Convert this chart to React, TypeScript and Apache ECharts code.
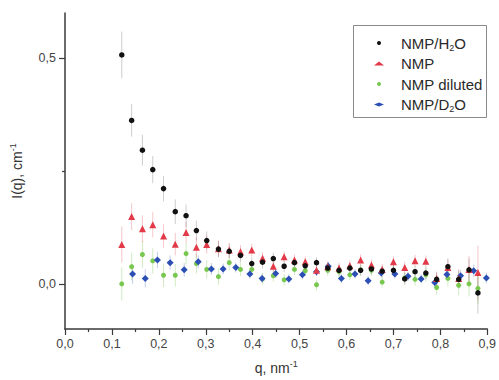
import React, { useEffect, useRef } from "react";
import * as echarts from "echarts";

// q values (nm^-1)
const qMain = [0.121,0.142,0.165,0.187,0.210,0.235,0.258,0.280,0.302,0.327,0.350,0.374,0.398,0.421,0.444,0.467,0.489,0.512,0.536,0.560,0.584,0.607,0.630,0.653,0.676,0.700,0.724,0.746,0.769,0.792,0.816,0.839,0.861,0.880];
const qD2O = [0.144,0.171,0.197,0.224,0.254,0.284,0.312,0.337,0.364,0.394,0.420,0.449,0.477,0.506,0.536,0.561,0.589,0.618,0.646,0.674,0.703,0.731,0.759,0.788,0.814,0.843,0.871,0.898];

// NMP/H2O
const h2oI = [0.507,0.362,0.296,0.253,0.211,0.160,0.151,0.118,0.096,0.077,0.072,0.063,0.045,0.048,0.056,0.039,0.047,0.040,0.047,0.035,0.030,0.035,0.030,0.033,0.028,0.030,0.011,0.027,0.024,0.010,0.038,0.010,0.031,-0.020];
const h2oErr = [0.052,0.036,0.034,0.030,0.028,0.027,0.025,0.022,0.020,0.018,0.016,0.015,0.014,0.014,0.013,0.013,0.012,0.012,0.012,0.012,0.012,0.012,0.012,0.012,0.012,0.013,0.013,0.013,0.014,0.015,0.018,0.020,0.025,0.046];

// NMP
const nmpI = [0.087,0.149,0.122,0.131,0.106,0.088,0.114,0.081,0.087,0.078,0.075,0.071,0.075,0.057,0.039,0.060,0.053,0.049,0.030,0.038,0.035,0.040,0.053,0.042,0.032,0.049,0.036,0.051,0.050,0.012,0.036,0.012,0.032,0.025];
const nmpErr = [0.040,0.030,0.030,0.028,0.026,0.025,0.024,0.022,0.020,0.018,0.016,0.015,0.014,0.013,0.013,0.012,0.012,0.012,0.012,0.012,0.012,0.012,0.012,0.012,0.012,0.012,0.013,0.013,0.013,0.015,0.018,0.020,0.030,0.060];

// NMP diluted
const dilI = [0.000,0.038,0.065,0.051,0.019,0.019,0.067,0.045,0.032,0.016,0.047,0.032,0.032,0.011,0.018,0.009,0.032,0.029,-0.002,0.030,0.027,0.020,0.031,0.030,0.004,0.030,0.013,0.010,0.020,-0.008,0.012,-0.003,0.000,-0.010];
const dilErr = [0.037,0.030,0.030,0.028,0.026,0.025,0.024,0.022,0.020,0.018,0.016,0.015,0.014,0.013,0.013,0.013,0.012,0.012,0.012,0.012,0.012,0.012,0.012,0.012,0.012,0.013,0.013,0.014,0.015,0.016,0.018,0.022,0.028,0.035];

// NMP/D2O
const d2oI = [0.022,0.012,0.053,0.047,0.031,0.049,0.033,0.033,0.036,0.022,0.012,0.023,0.011,0.020,0.027,0.039,0.012,0.022,0.007,0.024,0.022,0.017,0.011,0.003,0.021,0.018,0.029,0.013];
const d2oErr = [0.022,0.020,0.018,0.016,0.015,0.014,0.013,0.012,0.011,0.010,0.010,0.010,0.010,0.010,0.010,0.010,0.010,0.010,0.010,0.010,0.010,0.010,0.010,0.011,0.012,0.013,0.014,0.012];

const seriesNames = ["NMP/H2O", "NMP", "NMP diluted", "NMP/D2O"];
const legendLabels: Record<string, string> = {
  "NMP/H2O": "NMP/H{sub|2}O",
  "NMP": "NMP",
  "NMP diluted": "NMP diluted",
  "NMP/D2O": "NMP/D{sub|2}O",
};

const FONT = "'Liberation Sans', Arial, sans-serif";

function pts(q: number[], v: number[]) {
  return q.map((x, i) => [x, v[i]]);
}
function errs(q: number[], v: number[], e: number[]) {
  return q.map((x, i) => [x, v[i] - e[i], v[i] + e[i]]);
}

function errSeries(data: number[][], color: string, z: number) {
  return {
    type: "custom",
    z,
    silent: true,
    data,
    renderItem: (params: any, api: any) => {
      const x = api.value(0);
      const p1 = api.coord([x, api.value(1)]);
      const p2 = api.coord([x, api.value(2)]);
      return {
        type: "line",
        shape: { x1: p1[0], y1: p1[1], x2: p2[0], y2: p2[1] },
        style: { stroke: color, lineWidth: 1 },
      };
    },
  };
}

export default function App() {
  const ref = useRef<HTMLDivElement>(null);
  useEffect(() => {
    if (!ref.current) return;
    const chart = echarts.init(ref.current, undefined, { renderer: "svg" });
    const axisColor = "#3a3a3a";
    const labelColor = "#444";
    chart.setOption({
      animation: false,
      backgroundColor: "#fff",
      textStyle: { fontFamily: FONT },
      grid: { left: 65, top: 13, right: 9, bottom: 51, containLabel: false },
      graphic: [
        {
          type: "rect",
          shape: { x: 353.5, y: 25.5, width: 133, height: 92 },
          style: { fill: "#fff", stroke: "#8a8a8a", lineWidth: 1 },
          z: 10,
        },
      ],
      legend: {
        data: seriesNames,
        orient: "vertical",
        left: 374,
        top: 34,
        padding: 0,
        itemWidth: 10,
        itemHeight: 4,
        itemGap: 2.5,
        z: 20,
        formatter: (name: string) => legendLabels[name] || name,
        textStyle: {
          fontFamily: FONT,
          fontSize: 15,
          color: "#2a2a2a",
          padding: [0, 0, 0, 12],
          lineHeight: 18,
          rich: {
            sub: { fontSize: 9, fontFamily: FONT, color: "#2a2a2a", lineHeight: 18, verticalAlign: "bottom" },
          },
        },
      },
      xAxis: {
        type: "value",
        min: 0,
        max: 0.9,
        interval: 0.1,
        name: "q, nm{sup|-1}",
        nameLocation: "middle",
        nameGap: 30,
        nameTextStyle: {
          fontFamily: FONT,
          fontSize: 14,
          color: "#333",
          rich: { sup: { fontSize: 9, fontFamily: FONT, color: "#333", verticalAlign: "top", padding: [0, 0, 8, 0] } },
        },
        axisLine: { show: true, onZero: false, lineStyle: { color: axisColor, width: 1.5 } },
        axisTick: { show: true, length: 6, lineStyle: { color: axisColor, width: 1.2 } },
        minorTick: { show: true, splitNumber: 2, length: 3, lineStyle: { color: axisColor, width: 1.2 } },
        splitLine: { show: false },
        axisLabel: {
          color: labelColor,
          fontSize: 12.5,
          fontFamily: FONT,
          margin: 8,
          formatter: (v: number) => v.toFixed(1).replace(".", ","),
        },
      },
      yAxis: [
        {
          type: "value",
          min: -0.1,
          max: 0.6,
          name: "I(q), cm{sup|-1}",
          nameLocation: "middle",
          nameRotate: 90,
          nameGap: 40,
          nameTextStyle: {
            fontFamily: FONT,
            fontSize: 14,
            color: "#333",
            rich: { sup: { fontSize: 9, fontFamily: FONT, color: "#333", verticalAlign: "top", padding: [0, 0, 8, 0] } },
          },
          axisLine: { show: true, onZero: false, lineStyle: { color: axisColor, width: 1.5 } },
          axisTick: { show: true, length: 6, customValues: [0, 0.5], lineStyle: { color: axisColor, width: 1.2 } },
          splitLine: { show: false },
          axisLabel: {
            color: labelColor,
            fontSize: 12.5,
            fontFamily: FONT,
            margin: 9,
            customValues: [0, 0.5],
            formatter: (v: number) => v.toFixed(1).replace(".", ","),
          },
        },
        {
          type: "value",
          min: -0.1,
          max: 0.6,
          position: "left",
          axisLine: { show: false, onZero: false },
          axisTick: { show: true, length: 3, customValues: [0.25], lineStyle: { color: axisColor, width: 1.2 } },
          axisLabel: { show: false },
          splitLine: { show: false },
        },
      ],
      series: [
        errSeries(errs(qMain, dilI, dilErr), "rgba(120,200,80,0.35)", 1),
        errSeries(errs(qD2O, d2oI, d2oErr), "rgba(60,90,190,0.3)", 1),
        errSeries(errs(qMain, nmpI, nmpErr), "rgba(225,70,80,0.3)", 1),
        errSeries(errs(qMain, h2oI, h2oErr), "rgba(90,90,90,0.3)", 1),
        {
          name: "NMP diluted",
          type: "scatter",
          z: 2,
          symbol: "circle",
          symbolSize: 5,
          itemStyle: { color: "#78c850", opacity: 1 },
          data: pts(qMain, dilI),
        },
        {
          name: "NMP/D2O",
          type: "scatter",
          z: 3,
          symbol: "diamond",
          symbolSize: 7,
          itemStyle: { color: "#2b4fb4", opacity: 1 },
          data: pts(qD2O, d2oI),
        },
        {
          name: "NMP",
          type: "scatter",
          z: 4,
          symbol: "triangle",
          symbolSize: 7,
          itemStyle: { color: "#e23a48", opacity: 1 },
          data: pts(qMain, nmpI),
        },
        {
          name: "NMP/H2O",
          type: "scatter",
          z: 5,
          symbol: "circle",
          symbolSize: 5.5,
          itemStyle: { color: "#111", opacity: 1 },
          data: pts(qMain, h2oI),
        },
      ],
    });
    return () => chart.dispose();
  }, []);
  return (
    <div
      ref={ref}
      style={{ position: "fixed", left: 0, top: 0, width: 499, height: 380, background: "#fff" }}
    />
  );
}
